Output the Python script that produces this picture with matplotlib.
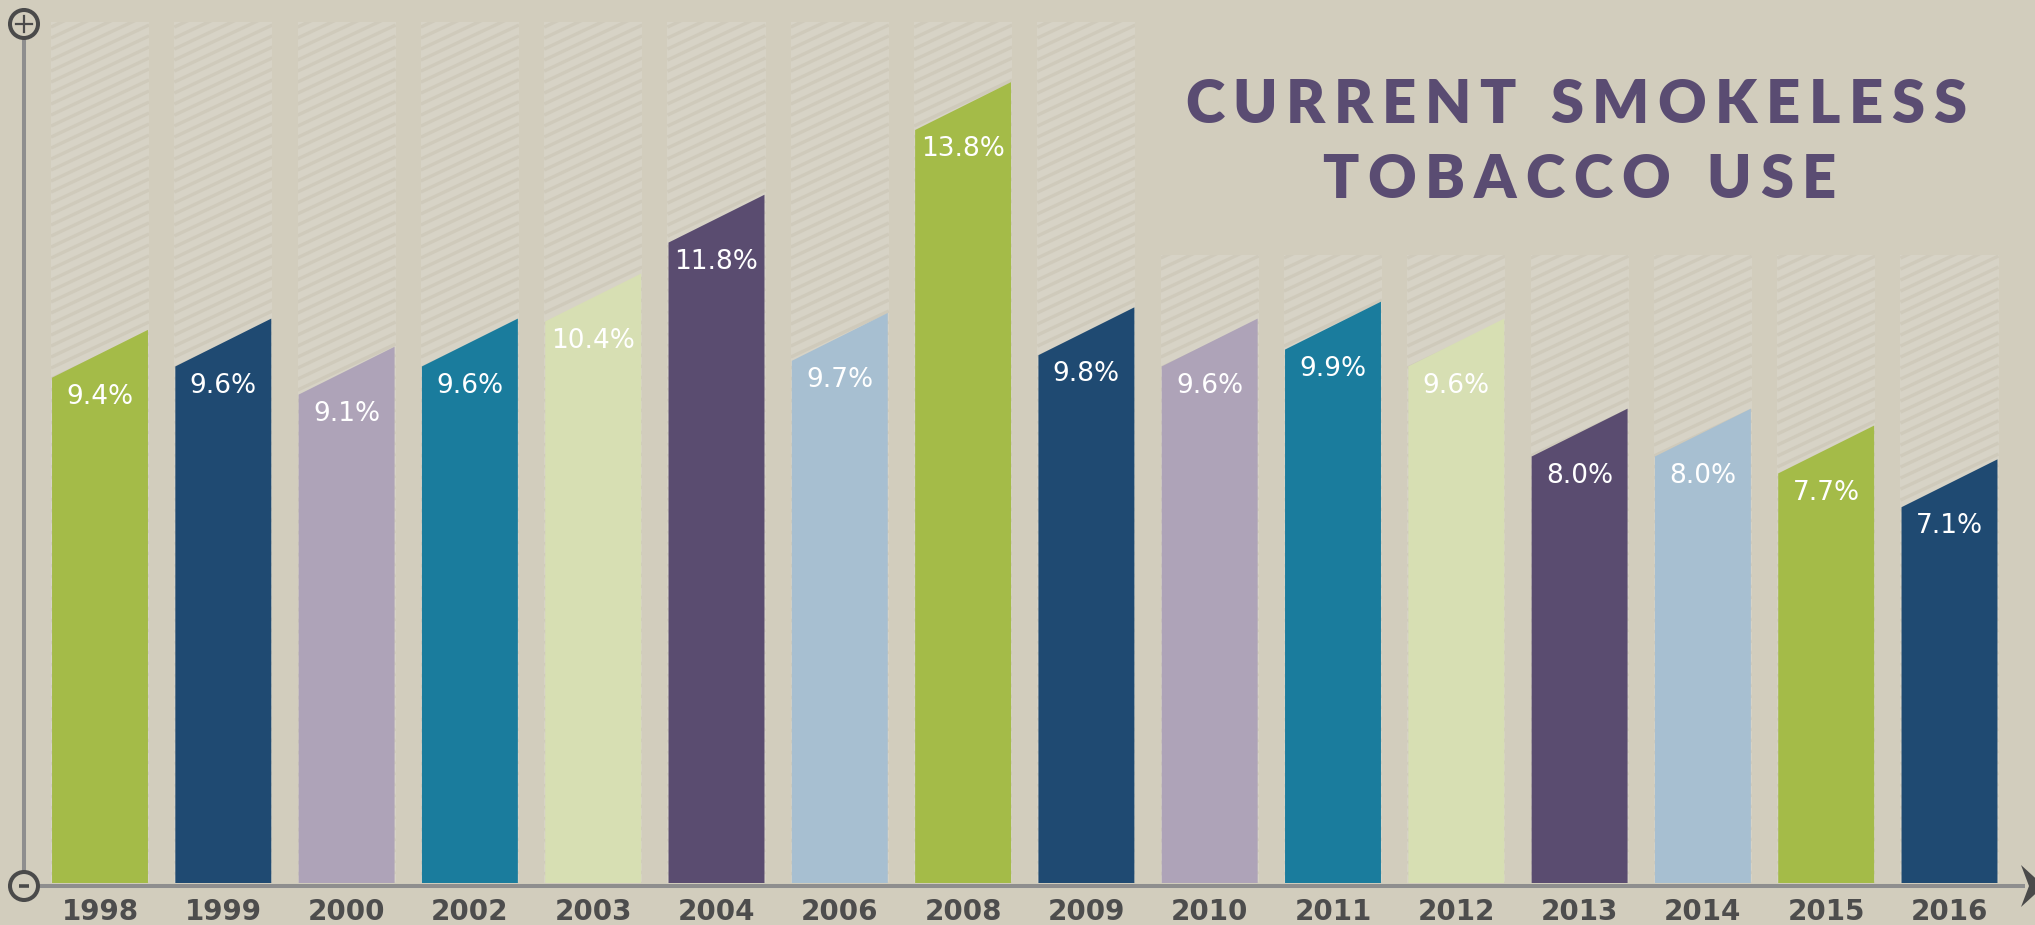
import matplotlib
matplotlib.use('Agg')
import matplotlib.pyplot as plt
from matplotlib.patches import Polygon, Rectangle, Circle
from matplotlib.collections import LineCollection
import numpy as np

# ---- data ----
years = ['1998', '1999', '2000', '2002', '2003', '2004', '2006', '2008',
         '2009', '2010', '2011', '2012', '2013', '2014', '2015', '2016']
values = [9.4, 9.6, 9.1, 9.6, 10.4, 11.8, 9.7, 13.8,
          9.8, 9.6, 9.9, 9.6, 8.0, 8.0, 7.7, 7.1]
labels = ['9.4%', '9.6%', '9.1%', '9.6%', '10.4%', '11.8%', '9.7%', '13.8%',
          '9.8%', '9.6%', '9.9%', '9.6%', '8.0%', '8.0%', '7.7%', '7.1%']
column_tops = [15.3] * 9 + [11.15] * 7
title_lines = ['CURRENT SMOKELESS', 'TOBACCO USE']

palette = ['#a4bb48', '#1f4a72', '#aea3b8', '#1a7c9d', '#d7dfb3', '#5a4c70', '#a7bfd1']
bar_colors = [palette[i % len(palette)] for i in range(len(values))]

BG = '#d2cdbd'
COL = '#d7d3c6'
STRIPE = '#cfcabb'

W, H = 2035, 925
fig = plt.figure(figsize=(W / 100, H / 100), dpi=100)
fig.patch.set_facecolor(BG)

# pixel geometry -> data scaling
px_per_x = 123.3
px_per_y = 56.3
x0px, base_px = 100, 883

ax = fig.add_axes([0, 0, 1, 1])
ax.set_xlim(-x0px / px_per_x, (W - x0px) / px_per_x)
ax.set_ylim(-(H - base_px) / px_per_y, base_px / px_per_y)
ax.axis('off')
ax.patch.set_alpha(0)

bw = 0.778
cw = 0.795
slant = 0.85
k = 0.47 * px_per_x / px_per_y       # stripe slope in data units
sp = 11 / px_per_y                   # stripe spacing

for i, (v, top) in enumerate(zip(values, column_tops)):
    # background column with diagonal stripes
    rect = Rectangle((i - cw / 2, 0), cw, top, facecolor=COL, edgecolor='none', zorder=1)
    ax.add_patch(rect)
    xa, xb = i - cw / 2, i + cw / 2
    segs = []
    y = -k * cw - sp
    while y < top + sp:
        segs.append([(xa, y), (xb, y + k * cw)])
        y += sp
    lc = LineCollection(segs, colors=STRIPE, linewidths=2.4, zorder=1.5)
    ax.add_collection(lc)
    lc.set_clip_path(rect)

    # slanted bar
    xl, xr = i - bw / 2, i + bw / 2
    poly = Polygon([(xl, 0), (xr, 0), (xr, v + slant / 2), (xl, v - slant / 2)],
                   closed=True, facecolor=bar_colors[i], edgecolor='none', zorder=2)
    ax.add_patch(poly)

    ax.text(i, v - slant / 2 - 0.34, labels[i], ha='center', va='center',
            color='white', fontsize=19, family='DejaVu Sans', zorder=3)
    ax.text(i, -0.52, years[i], ha='center', va='center', color='#4d4d4d',
            fontsize=20, fontweight='bold', family='DejaVu Sans', zorder=3)

# ---- overlay (pixel coordinates) for axis decoration and title ----
ov = fig.add_axes([0, 0, 1, 1])
ov.set_xlim(0, W)
ov.set_ylim(H, 0)
ov.axis('off')
ov.patch.set_alpha(0)

LINE = '#8e8e8e'
DARK = '#4a4a4a'
ov.plot([24, 24], [40, 870], color=LINE, lw=2.9, solid_capstyle='butt', zorder=1)
ov.plot([40, 2025], [886, 886], color=LINE, lw=2.9, solid_capstyle='butt', zorder=1)
for cy in (24, 886):
    ov.add_patch(Circle((24, cy), 14, facecolor=BG, edgecolor=DARK, lw=2.9, zorder=2))
ov.plot([16, 32], [24, 24], color=DARK, lw=1.6, zorder=3)
ov.plot([24, 24], [16, 32], color=DARK, lw=1.6, zorder=3)
ov.plot([19, 29], [886, 886], color=DARK, lw=2.6, solid_capstyle='butt', zorder=3)
ov.add_patch(Polygon([(2021, 865), (2044, 886), (2021, 907), (2029, 886)],
                     closed=True, facecolor=DARK, edgecolor='none', zorder=3))

# tracked title
renderer = fig.canvas.get_renderer()
TITLE_C = '#5a4c72'
specs = [(title_lines[0], 1185, 1966, 123), (title_lines[1], 1322, 1836, 198)]
for line, xl, xr, base in specs:
    items = []
    for ch in line:
        if ch == ' ':
            items.append((None, 0))
            continue
        t = ov.text(0, base, ch, fontsize=43, fontweight='heavy', family='Lato',
                    color=TITLE_C, ha='left', va='baseline', zorder=3)
        items.append((t, t.get_window_extent(renderer).width))
    letters = sum(w for t, w in items if t is not None)
    n_in = sum(1 for a, b in zip(line, line[1:]) if a != ' ' and b != ' ')
    n_word = line.count(' ')
    wg = 4.0
    tr = ((xr - xl) - letters) / (n_in + wg * n_word)
    x = xl
    prev_space = False
    first = True
    for (t, w), ch in zip(items, line):
        if t is None:
            prev_space = True
            continue
        if not first:
            x += tr * (wg if prev_space else 1)
        t.set_x(x)
        x += w
        prev_space = False
        first = False

fig.savefig('out.png', dpi=100, facecolor=BG)
